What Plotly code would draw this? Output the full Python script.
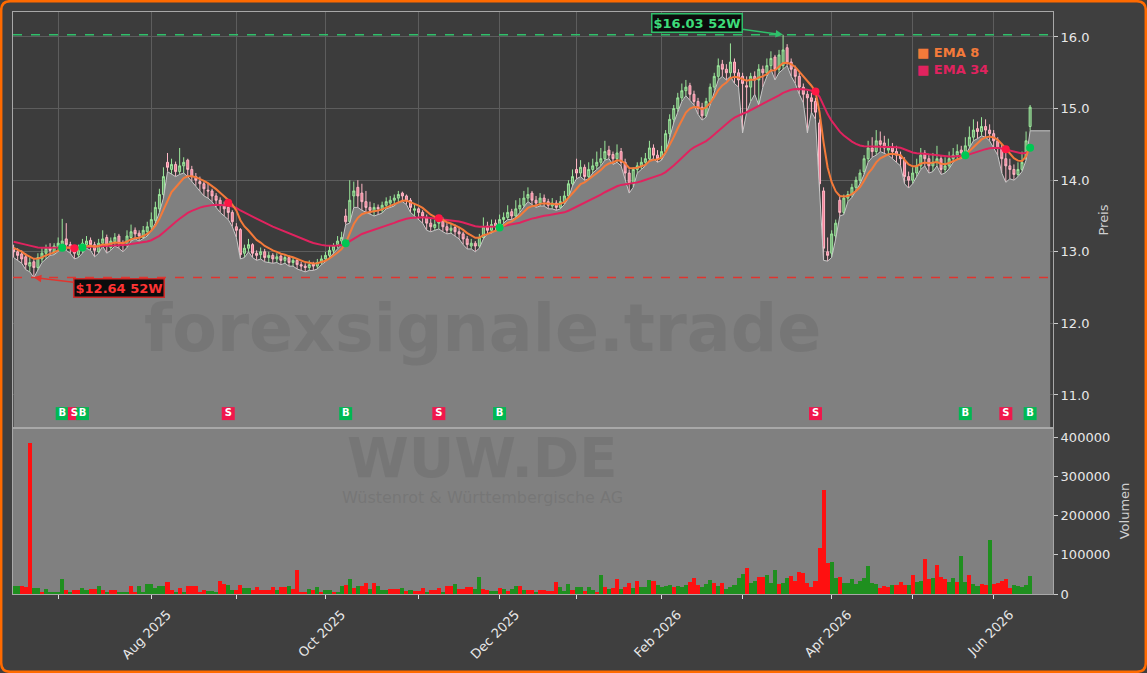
import numpy as np
import pandas as pd
import plotly.graph_objects as go

# ---------------- data ----------------
HOLIDAYS = ["2025-12-24", "2025-12-25", "2025-12-26", "2025-12-31",
            "2026-01-01", "2026-04-03", "2026-04-06", "2026-05-01"]
DATES = [d for d in pd.bdate_range("2025-06-16", "2026-06-12")
         if d.strftime("%Y-%m-%d") not in HOLIDAYS]

OPEN = [13.05,13.00,12.97,12.93,12.80,12.86,12.78,12.90,12.98,13.06,
        13.00,13.06,13.10,13.18,13.10,13.05,12.96,13.02,13.10,13.16,
        13.10,13.00,13.12,13.20,13.06,13.14,13.22,13.12,13.10,13.20,
        13.30,13.26,13.20,13.28,13.35,13.44,13.60,13.80,14.25,14.15,
        14.22,14.12,14.20,14.28,14.15,14.05,13.98,13.95,13.86,13.85,
        13.78,13.72,13.64,13.62,13.55,13.35,13.31,12.98,13.05,13.10,
        12.98,12.96,13.00,12.92,12.95,12.90,12.94,12.88,12.92,12.85,
        12.88,12.82,12.80,12.78,12.83,12.80,12.85,12.90,12.95,13.02,
        13.10,13.15,13.50,13.42,13.78,13.90,13.82,13.70,13.62,13.56,
        13.62,13.58,13.65,13.68,13.72,13.75,13.82,13.78,13.72,13.58,
        13.60,13.55,13.48,13.40,13.34,13.40,13.44,13.35,13.30,13.34,
        13.28,13.25,13.18,13.08,13.12,13.08,13.20,13.36,13.30,13.40,
        13.35,13.45,13.48,13.56,13.50,13.60,13.65,13.75,13.82,13.72,
        13.68,13.75,13.70,13.64,13.68,13.62,13.70,13.78,13.95,14.15,
        14.10,14.18,14.05,14.15,14.20,14.25,14.30,14.42,14.36,14.30,
        14.40,14.25,14.10,13.95,14.15,14.20,14.25,14.30,14.45,14.35,
        14.30,14.40,14.65,14.85,15.00,15.15,15.25,15.32,15.20,15.10,
        15.02,14.90,15.10,15.30,15.45,15.62,15.55,15.50,15.65,15.50,
        15.45,15.32,15.30,15.45,15.40,15.55,15.50,15.60,15.72,15.55,
        15.60,15.85,15.65,15.55,15.45,15.30,15.20,15.15,15.10,14.80,
        13.85,13.00,12.98,13.22,13.72,13.55,13.75,13.80,13.90,14.00,
        14.12,14.30,14.45,14.40,14.55,14.52,14.42,14.45,14.40,14.35,
        14.28,14.05,14.00,14.10,14.20,14.38,14.30,14.20,14.25,14.30,
        14.15,14.20,14.30,14.35,14.42,14.38,14.48,14.60,14.72,14.68,
        14.75,14.70,14.65,14.55,14.45,14.30,14.20,14.15,14.08,14.15,
        14.30,14.75]
HIGH = [13.10,13.05,13.02,12.98,12.92,12.90,12.98,13.05,13.10,13.12,
        13.12,13.20,13.46,13.40,13.14,13.08,13.10,13.18,13.22,13.20,
        13.14,13.18,13.30,13.24,13.20,13.26,13.25,13.16,13.30,13.38,
        13.34,13.30,13.36,13.42,13.55,13.70,13.88,14.18,14.38,14.30,
        14.26,14.45,14.32,14.30,14.20,14.10,14.05,13.98,13.95,13.88,
        13.82,13.76,13.70,13.68,13.58,13.40,13.33,13.10,13.18,13.12,
        13.02,13.06,13.04,13.00,12.98,12.98,12.96,12.96,12.95,12.92,
        12.90,12.86,12.84,12.88,12.86,12.90,12.95,13.00,13.08,13.12,
        13.22,13.28,13.60,14.00,13.98,14.00,13.95,13.85,13.70,13.68,
        13.66,13.70,13.76,13.78,13.80,13.85,13.84,13.80,13.75,13.68,
        13.62,13.58,13.52,13.46,13.45,13.50,13.48,13.40,13.40,13.38,
        13.34,13.28,13.22,13.18,13.15,13.25,13.48,13.42,13.45,13.45,
        13.52,13.55,13.65,13.60,13.72,13.75,13.85,13.90,13.85,13.78,
        13.82,13.80,13.74,13.75,13.72,13.78,13.85,14.00,14.15,14.30,
        14.28,14.22,14.25,14.30,14.40,14.45,14.55,14.48,14.40,14.50,
        14.45,14.30,14.15,14.18,14.25,14.32,14.38,14.55,14.50,14.42,
        14.48,14.70,14.92,15.05,15.22,15.35,15.40,15.36,15.25,15.15,
        15.08,15.15,15.35,15.50,15.70,15.68,15.62,15.91,15.70,15.55,
        15.50,15.45,15.50,15.52,15.62,15.60,15.70,15.80,15.75,15.82,
        16.03,15.90,15.70,15.60,15.50,15.35,15.25,15.22,15.15,14.85,
        13.90,13.20,13.30,13.45,13.78,13.80,13.85,13.95,14.05,14.15,
        14.35,14.55,14.60,14.70,14.68,14.62,14.58,14.52,14.48,14.40,
        14.32,14.12,14.18,14.30,14.45,14.42,14.35,14.38,14.48,14.35,
        14.32,14.40,14.45,14.50,14.48,14.60,14.75,14.85,14.82,14.88,
        14.85,14.78,14.70,14.60,14.50,14.38,14.30,14.22,14.25,14.40,
        14.68,15.05]
LOW = [12.92,12.88,12.84,12.75,12.72,12.64,12.74,12.85,12.90,12.95,
       12.96,13.00,13.05,13.02,12.98,12.90,12.92,12.98,13.05,13.02,
       12.93,12.98,13.08,12.98,13.02,13.08,13.05,13.00,13.06,13.15,
       13.18,13.15,13.18,13.22,13.30,13.40,13.55,13.75,14.12,14.08,
       14.05,14.08,14.10,14.05,13.98,13.92,13.85,13.78,13.75,13.70,
       13.62,13.55,13.50,13.45,13.35,13.20,12.90,12.92,13.00,12.92,
       12.88,12.90,12.86,12.85,12.84,12.85,12.82,12.84,12.80,12.80,
       12.76,12.74,12.72,12.74,12.74,12.76,12.82,12.86,12.92,12.98,
       13.05,13.10,13.38,13.40,13.62,13.62,13.58,13.55,13.52,13.50,
       13.52,13.54,13.60,13.62,13.64,13.70,13.70,13.66,13.55,13.50,
       13.45,13.40,13.30,13.28,13.30,13.32,13.28,13.25,13.26,13.22,
       13.18,13.10,13.04,13.04,13.00,13.05,13.18,13.25,13.26,13.30,
       13.32,13.40,13.45,13.45,13.48,13.55,13.62,13.70,13.66,13.62,
       13.64,13.64,13.60,13.60,13.58,13.60,13.66,13.75,13.92,14.02,
       14.05,14.00,14.02,14.10,14.15,14.20,14.28,14.30,14.22,14.25,
       14.20,14.00,13.82,13.90,14.10,14.15,14.20,14.28,14.30,14.25,
       14.28,14.38,14.60,14.80,14.95,15.10,15.18,15.12,15.05,14.92,
       14.84,14.88,15.05,15.25,15.40,15.45,15.40,15.45,15.35,15.30,
       14.66,14.95,15.10,15.20,15.05,15.30,15.45,15.55,15.40,15.50,
       15.55,15.60,15.45,15.35,15.20,15.08,14.66,14.95,14.85,13.85,
       12.88,12.87,12.92,13.18,13.50,13.52,13.70,13.76,13.85,13.95,
       14.08,14.25,14.32,14.35,14.40,14.38,14.35,14.30,14.25,14.20,
       13.95,13.89,13.95,14.05,14.15,14.20,14.10,14.12,14.20,14.08,
       14.10,14.16,14.25,14.30,14.30,14.35,14.45,14.55,14.58,14.62,
       14.60,14.55,14.45,14.35,14.10,13.97,14.02,14.00,14.05,14.12,
       14.28,14.69]
CLOSE = [13.00,12.95,12.90,12.82,12.85,12.78,12.92,12.98,13.05,13.02,
         13.08,13.12,13.15,13.10,13.05,12.98,13.04,13.12,13.15,13.10,
         13.02,13.12,13.18,13.08,13.15,13.20,13.12,13.10,13.22,13.28,
         13.25,13.22,13.30,13.35,13.45,13.62,13.80,14.05,14.18,14.22,
         14.12,14.20,14.25,14.15,14.05,14.00,13.95,13.88,13.85,13.78,
         13.72,13.65,13.60,13.55,13.42,13.30,12.96,13.05,13.10,12.98,
         12.95,13.00,12.92,12.95,12.90,12.93,12.88,12.92,12.85,12.88,
         12.82,12.80,12.78,12.82,12.80,12.85,12.90,12.95,13.02,13.08,
         13.15,13.20,13.42,13.72,13.85,13.78,13.70,13.62,13.58,13.62,
         13.60,13.65,13.70,13.72,13.75,13.80,13.78,13.72,13.62,13.60,
         13.55,13.50,13.40,13.35,13.38,13.42,13.35,13.30,13.33,13.28,
         13.25,13.18,13.10,13.12,13.08,13.20,13.35,13.30,13.38,13.35,
         13.45,13.48,13.55,13.50,13.60,13.65,13.75,13.80,13.72,13.68,
         13.75,13.70,13.65,13.68,13.62,13.70,13.78,13.95,14.05,14.10,
         14.18,14.05,14.15,14.20,14.25,14.30,14.40,14.35,14.30,14.38,
         14.25,14.10,13.95,14.15,14.20,14.25,14.30,14.45,14.35,14.30,
         14.40,14.65,14.85,15.00,15.15,15.25,15.30,15.20,15.10,15.00,
         14.90,15.10,15.30,15.45,15.60,15.55,15.50,15.65,15.50,15.40,
         15.35,15.30,15.45,15.40,15.55,15.50,15.60,15.70,15.55,15.75,
         15.82,15.65,15.55,15.45,15.30,15.20,15.15,15.10,14.95,13.95,
         13.05,12.95,13.25,13.40,13.55,13.75,13.80,13.90,14.00,14.10,
         14.30,14.45,14.40,14.55,14.50,14.45,14.45,14.40,14.35,14.30,
         14.05,14.00,14.10,14.20,14.35,14.30,14.20,14.25,14.30,14.15,
         14.20,14.30,14.35,14.40,14.38,14.48,14.60,14.70,14.68,14.75,
         14.70,14.65,14.55,14.45,14.30,14.20,14.15,14.08,14.15,14.25,
         14.55,15.02]
VOLUME_K = [20,20,20,18,384,15,15,4,14,6,6,
            6,37,10,4,10,10,15,10,13,13,
            20,10,6,10,10,6,6,6,20,6,
            20,4,25,25,15,20,20,30,10,4,
            15,4,20,20,20,6,10,8,8,4,
            34,25,23,10,10,23,15,15,10,17,
            10,10,10,17,10,17,17,20,12,60,
            6,6,12,10,17,4,10,10,6,6,
            20,23,37,15,20,20,28,14,27,20,
            10,10,12,12,12,15,8,10,8,8,
            15,4,10,10,15,4,20,20,25,12,
            12,18,18,12,44,14,10,8,8,15,
            14,8,14,20,20,10,10,10,5,10,
            10,8,8,30,19,8,25,10,19,19,
            8,19,10,4,48,17,14,15,39,14,
            19,27,15,34,17,17,36,33,23,19,
            20,22,17,20,19,23,31,41,22,17,
            25,36,28,20,27,14,19,23,42,51,
            65,27,34,44,44,48,27,60,25,27,
            41,46,33,56,53,27,19,33,117,265,
            78,81,41,44,29,29,37,25,33,42,
            71,27,25,15,20,17,22,23,30,23,
            22,48,30,33,90,37,41,75,44,37,
            30,41,30,97,30,48,25,20,25,22,
            138,25,27,34,39,15,22,20,19,22,
            46]
VOL_DIR = ("g" + "grrrggrggg" + "ggrgrrggrr" + "grgrrgggrr" + "gggggggrrg"
           + "rgrrrrrggg" + "rrggrrggrr" + "rrrrgrrgrr" + "rrgrgrggrg"
           + "grgrgrrgrg" + "ggrrrgrgrr" + "rgrrrgrrgr" + "rrrggrrggr"
           + "grggrgrrgr" + "rrrrgggrgg" + "rggrgrgrrg" + "rrgrgggrgg"
           + "ggrgggrrrg" + "ggrgrggggg" + "rggrrgggrg" + "grrrrrrrrr"
           + "rggrgggggg" + "gggrrrgrrr" + "grggrrgrrr" + "ggrggrggrr"
           + "grrrrrgggg" + "g")
SIGNAL_IDX = [12, 15, 17, 53, 82, 105, 120, 198, 235, 245, 251]
SIGNAL_TYPE = ["B", "S", "B", "S", "B", "S", "B", "S", "B", "S", "B"]
EMA_FAST, EMA_SLOW = 8, 34
EMA_FAST_SEED, EMA_SLOW_SEED = 13.07, 13.15
HIGH_52W, LOW_52W = 16.03, 12.64
TICKER, COMPANY = "WUW.DE", "Wüstenrot & Württembergische AG"

N = len(CLOSE)
assert len(DATES) == N == len(OPEN) == len(HIGH) == len(LOW) == len(VOLUME_K) == len(VOL_DIR)

# ---------------- layout constants ----------------
W, H = 1147, 673
ML, MR, MT, MB = 13, 94, 12, 79
PW, PH = W - ML - MR, H - MT - MB
VOL_FRAC = 166 / PH
PRICE_RANGE = [10.539, 16.349]
VOL_RANGE = [0, 423000]
X_RANGE = [-0.15, 256.65]
FILL_PAD = 4.95
SIG_LEVEL = 10.74
FONT = "DejaVu Sans"

C_BG = "#3f3f3f"
C_PLOT = "#3c3c3c"
C_FILL = "#808080"
C_GRID = "#5d5d5d"
C_SPINE = "#a8a8a8"
C_TXT = "#e8e8e8"
C_EMA8 = "#f47a3a"
C_EMA34 = "#e0235f"
C_BUY = "#00b853"
C_SELL = "#f0174c"
C_WM = "rgba(105,105,105,0.42)"


def ema(vals, span, seed):
    a = 2.0 / (span + 1)
    out, e = [], seed
    for v in vals:
        e = e + a * (v - e)
        out.append(e)
    return out


ema8 = ema(CLOSE, EMA_FAST, EMA_FAST_SEED)
ema34 = ema(CLOSE, EMA_SLOW, EMA_SLOW_SEED)
x = list(range(N))

# month ticks
month_idx, month_txt = [], []
for i, d in enumerate(DATES):
    if i > 0 and d.month != DATES[i - 1].month:
        month_idx.append(i)
        month_txt.append(d.strftime("%b %Y") if d.month % 2 == 0 else "")

fig = go.Figure()

# grey area of lows
fig.add_trace(go.Scatter(
    x=x + [N - 1 + FILL_PAD], y=LOW + [LOW[-1]], mode="lines",
    fill="tozeroy", fillcolor=C_FILL, line=dict(color="#c8c8c8", width=1),
    hoverinfo="skip", xaxis="x", yaxis="y"))

fig.add_trace(go.Candlestick(
    x=x, open=OPEN, high=HIGH, low=LOW, close=CLOSE,
    increasing=dict(line=dict(color="#9be89b", width=1), fillcolor="rgba(150,228,150,0.55)"),
    decreasing=dict(line=dict(color="#ffb8c6", width=1), fillcolor="#f07d95"),
    whiskerwidth=0, xaxis="x", yaxis="y"))

fig.add_trace(go.Scatter(x=x, y=ema34, mode="lines", line=dict(color=C_EMA34, width=2),
                         xaxis="x", yaxis="y"))
fig.add_trace(go.Scatter(x=x, y=ema8, mode="lines", line=dict(color=C_EMA8, width=2),
                         xaxis="x", yaxis="y"))

# crossover dots
fig.add_trace(go.Scatter(
    x=SIGNAL_IDX, y=[(ema8[i] + ema34[i]) / 2 for i in SIGNAL_IDX], mode="markers",
    marker=dict(size=8, color=["#00c853" if t == "B" else "#ff1744" for t in SIGNAL_TYPE]),
    xaxis="x", yaxis="y"))

# signal labels
fig.add_trace(go.Scatter(
    x=SIGNAL_IDX, y=[SIG_LEVEL] * len(SIGNAL_IDX), mode="markers+text",
    text=SIGNAL_TYPE, textposition="middle center",
    textfont=dict(color="white", size=10, family=FONT, weight="bold"),
    marker=dict(symbol="square", size=13,
                color=[C_BUY if t == "B" else C_SELL for t in SIGNAL_TYPE]),
    xaxis="x", yaxis="y"))

# volume
fig.add_trace(go.Bar(
    x=x, y=[v * 1000 for v in VOLUME_K],
    marker=dict(color=["#1f8f1f" if c == "g" else "#ff1010" for c in VOL_DIR], line=dict(width=0)),
    width=1.0, xaxis="x2", yaxis="y2"))


def px_x(px):
    return (px - ML) / PW


def px_y(py):
    return (H - MB - py) / PH


# rounded orange frame
x0, y0, x1, y1, r = 1.2, 1.2, W - 1.2, H - 1.2, 9
pts = [("M", x0 + r, y0), ("L", x1 - r, y0), ("Q", x1, y0, x1, y0 + r), ("L", x1, y1 - r),
       ("Q", x1, y1, x1 - r, y1), ("L", x0 + r, y1), ("Q", x0, y1, x0, y1 - r),
       ("L", x0, y0 + r), ("Q", x0, y0, x0 + r, y0)]
path = ""
for p in pts:
    cmd, coords = p[0], p[1:]
    parts = []
    for k in range(0, len(coords), 2):
        parts.append(f"{px_x(coords[k]):.5f},{px_y(coords[k+1]):.5f}")
    path += cmd + " " + " ".join(parts) + " "
path += "Z"

shapes = [
    dict(type="rect", xref="x2 domain", yref="y2 domain", x0=0, x1=1, y0=0, y1=1,
         fillcolor=C_FILL, line=dict(width=0), layer="below"),
    dict(type="line", xref="x domain", yref="y", x0=0, x1=1, y0=HIGH_52W, y1=HIGH_52W,
         line=dict(color="#2fbf6a", width=1.5, dash="dash")),
    dict(type="line", xref="x domain", yref="y", x0=0, x1=1, y0=LOW_52W, y1=LOW_52W,
         line=dict(color="#e0352f", width=1.5, dash="dash")),
    dict(type="path", xref="paper", yref="paper", path=path,
         line=dict(color="#ff6a00", width=2.5)),
]

hi_i = int(np.argmax(HIGH))
lo_i = int(np.argmin(LOW))
annotations = [
    dict(x=px_x(482), y=px_y(328), xref="paper", yref="paper", text="<b>forexsignale.trade</b>",
         xanchor="center", yanchor="middle",
         showarrow=False, font=dict(color=C_WM, size=65, family=FONT)),
    dict(x=px_x(482), y=px_y(458), xref="paper", yref="paper", text=f"<b>{TICKER}</b>",
         xanchor="center", yanchor="middle",
         showarrow=False, font=dict(color=C_WM, size=56, family=FONT)),
    dict(x=px_x(482), y=px_y(497), xref="paper", yref="paper", text=COMPANY,
         xanchor="center", yanchor="middle",
         showarrow=False, font=dict(color=C_WM, size=16, family=FONT)),
    dict(x=hi_i, y=HIGH_52W, xref="x", yref="y", text=f"<b>${HIGH_52W:.2f} 52W</b>",
         showarrow=True, ax=-86, ay=-12, arrowhead=2, arrowsize=1, arrowwidth=1.5,
         arrowcolor="#2fbf6a", font=dict(color="#3ddc7a", size=13, family=FONT),
         bgcolor="#0c0c0c", bordercolor="#2fbf6a", borderwidth=1.5, borderpad=1),
    dict(x=lo_i, y=LOW_52W, xref="x", yref="y", text=f"<b>${LOW_52W:.2f} 52W</b>",
         showarrow=True, ax=85, ay=10, arrowhead=2, arrowsize=1, arrowwidth=1.5,
         arrowcolor="#e0352f", font=dict(color="#ff3434", size=13, family=FONT),
         bgcolor="#0c0c0c", bordercolor="#d02a2a", borderwidth=1.5, borderpad=1),
    dict(x=px_x(915), y=px_y(53), xref="paper", yref="paper", xanchor="left", yanchor="middle",
         text=f"<b>■ EMA {EMA_FAST}</b>", showarrow=False,
         font=dict(color=C_EMA8, size=13, family=FONT)),
    dict(x=px_x(915), y=px_y(70), xref="paper", yref="paper", xanchor="left", yanchor="middle",
         text=f"<b>■ EMA {EMA_SLOW}</b>", showarrow=False,
         font=dict(color=C_EMA34, size=13, family=FONT)),
]

fig.update_layout(
    width=W, height=H, margin=dict(l=ML, r=MR, t=MT, b=MB, autoexpand=False),
    paper_bgcolor=C_BG, plot_bgcolor=C_PLOT, showlegend=False,
    font=dict(family=FONT, color=C_TXT, size=13),
    shapes=shapes, annotations=annotations, bargap=0,
    xaxis=dict(domain=[0, 1], anchor="y", range=X_RANGE, tickvals=month_idx,
               ticktext=[""] * len(month_idx), showticklabels=False, ticks="",
               showgrid=True, gridcolor=C_GRID, gridwidth=1, zeroline=False,
               showline=True, linecolor=C_SPINE, linewidth=1, mirror=True,
               rangeslider=dict(visible=False)),
    yaxis=dict(domain=[VOL_FRAC, 1], anchor="x", side="right", range=PRICE_RANGE,
               tickvals=[11, 12, 13, 14, 15, 16], tickformat=".1f",
               ticks="outside", ticklen=4, tickcolor="#cccccc",
               showgrid=True, gridcolor=C_GRID, zeroline=False,
               showline=True, linecolor=C_SPINE, linewidth=1, mirror=True,
               title=dict(text="Preis", font=dict(size=13, color="#d0d0d0"), standoff=10)),
    xaxis2=dict(domain=[0, 1], anchor="y2", matches="x", range=X_RANGE,
                tickvals=month_idx, ticktext=month_txt, tickangle=-45,
                ticks="outside", ticklen=4, tickcolor="#dddddd", ticklabelshift=16,
                ticklabelstandoff=3,
                showgrid=False, zeroline=False, showline=True, linecolor=C_SPINE,
                linewidth=1, mirror=True),
    yaxis2=dict(domain=[0, VOL_FRAC], anchor="x2", side="right", range=VOL_RANGE,
                tickvals=[0, 100000, 200000, 300000, 400000], tickformat="d",
                ticks="outside", ticklen=4, tickcolor="#cccccc",
                showgrid=False, zeroline=False, showline=True, linecolor=C_SPINE,
                linewidth=1, mirror=True,
                title=dict(text="Volumen", font=dict(size=13, color="#d0d0d0"), standoff=10)),
)

fig.write_html("out.html")
